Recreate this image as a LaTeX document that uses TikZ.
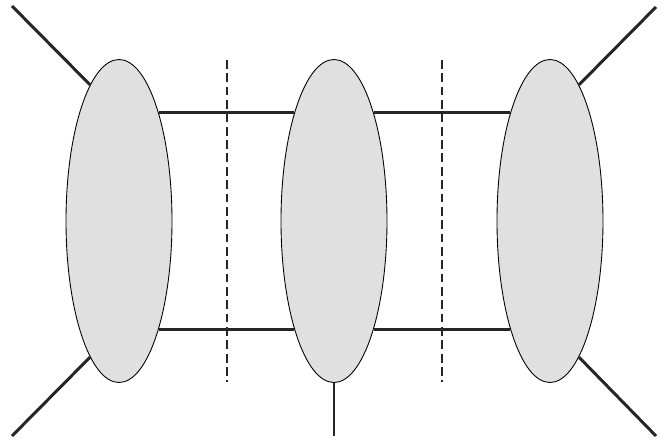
\documentclass[tikz,border=0pt]{standalone}
\usetikzlibrary{shapes.geometric}
\usetikzlibrary{backgrounds}
\colorlet{blobgrey}{black!12!white}
\def\blobw{106}
\def\blobh{323}
\begin{document}
\begin{tikzpicture}[
    x=0.02cm, y=-0.02cm,
    blob/.style={
        ellipse,
        draw=black,
        line width=0.5pt,
        fill=blobgrey,
        inner sep=0,
        minimum width=\blobw*0.02cm,
        minimum height=\blobh*0.02cm
    },
    leg/.style={draw=black!85,line width=1.7pt},
    cut/.style={draw=black!85,line width=1.4pt,dash pattern=on 5pt off 2.6pt}
]

\useasboundingbox (0, 0) rectangle (664, 443);

\node [blob] (left)  at (119, 221) {};
\node [blob] (mid)   at (334, 221) {};
\node [blob] (right) at (550, 221) {};

\coordinate (tl) at ( 12,   6);
\coordinate (bl) at ( 12, 436);
\coordinate (tr) at (656,   7);
\coordinate (br) at (656, 436);
\coordinate (bm) at (334, 436);

\coordinate (c1t) at (227,  60);
\coordinate (c1b) at (227, 382);
\coordinate (c2t) at (442,  60);
\coordinate (c2b) at (442, 382);

\begin{scope}[on background layer]
\draw [leg] (left.70)  -- (mid.110);
\draw [leg] (left.-70) -- (mid.-110);
\draw [leg] (mid.70)   -- (right.110);
\draw [leg] (mid.-70)  -- (right.-110);
\end{scope}

\draw [leg] (tl) -- (left.102);
\draw [leg] (bl) -- (left.-102);
\draw [leg] (tr) -- (right.78);
\draw [leg] (br) -- (right.-78);
\draw [leg] (mid.south) -- (bm);

\draw [cut] (c1t) -- (c1b);
\draw [cut] (c2t) -- (c2b);

\end{tikzpicture}
\end{document}
